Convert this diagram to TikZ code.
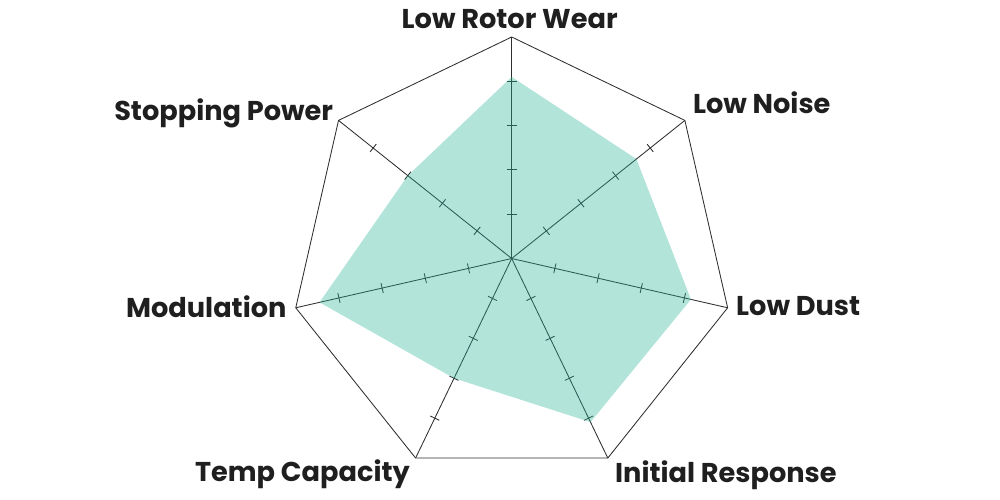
\documentclass[tikz,border=0pt]{standalone}
\usepackage{fontspec}
\setmainfont{Poppins}
\usetikzlibrary{calc}
\definecolor{gridline}{HTML}{2E2E2E}
\definecolor{scorefill}{RGB}{35,178,149}

\begin{document}
\begin{tikzpicture}[x=1pt,y=1pt,
        grid/.style={draw=gridline,line width=0.85pt},
        lab/.style={font=\fontsize{27.2}{29}\selectfont\bfseries,text=black!88,inner sep=0pt}]
                \useasboundingbox (-511.7,-241.5) rectangle (488.3,258.5);
                \coordinate (O) at (0,0);
                \foreach \i in {0,...,6}
                    \coordinate (V\i) at ({90-\i*360/7}:221.5);
                \draw[grid] (V0)--(V1)--(V2)--(V3)--(V4)--(V5)--(V6)--cycle;
                \foreach \i in {0,...,6}{
                    \draw[grid] (O) -- (V\i);
                    \foreach \t in {0.2,0.4,0.6,0.8}
                        \draw[grid] ($(O)!\t!(V\i)!5pt!90:(V\i)$) -- ($(O)!\t!(V\i)!5pt!-90:(V\i)$);
                }
                % scores
                \foreach \v [count=\i from 0] in {0.82,0.72,0.83,0.82,0.60,0.89,0.60}
                    \coordinate (S\i) at ({90-\i*360/7}:\v*221.5);
                \fill[scorefill,fill opacity=0.35] (S0)--(S1)--(S2)--(S3)--(S4)--(S5)--(S6)--cycle;
                % labels
                \node[lab,anchor=base] (W) at ($(V0)+(-2,8.5)$) {Low Rotor Wear};
                \node[lab,anchor=base west] (N) at ($(V1)+(8,7)$) {Low Noise};
                \node[lab,anchor=base west] (D) at ($(V2)+(8.4,-8.2)$) {Low Dust};
                \node[lab,anchor=base west] (R) at ($(V3)+(7.2,-24.6)$) {Initial Response};
                \node[lab,anchor=base east] (T) at ($(V4)+(-5.6,-23.6)$) {Temp Capacity};
                \node[lab,anchor=base east] (M) at ($(V5)+(-9.1,-10.2)$) {Modulation};
                \node[lab,anchor=base east] (P) at ($(V6)+(-5.2,0.4)$) {Stopping Power};
            \end{tikzpicture}
\end{document}
